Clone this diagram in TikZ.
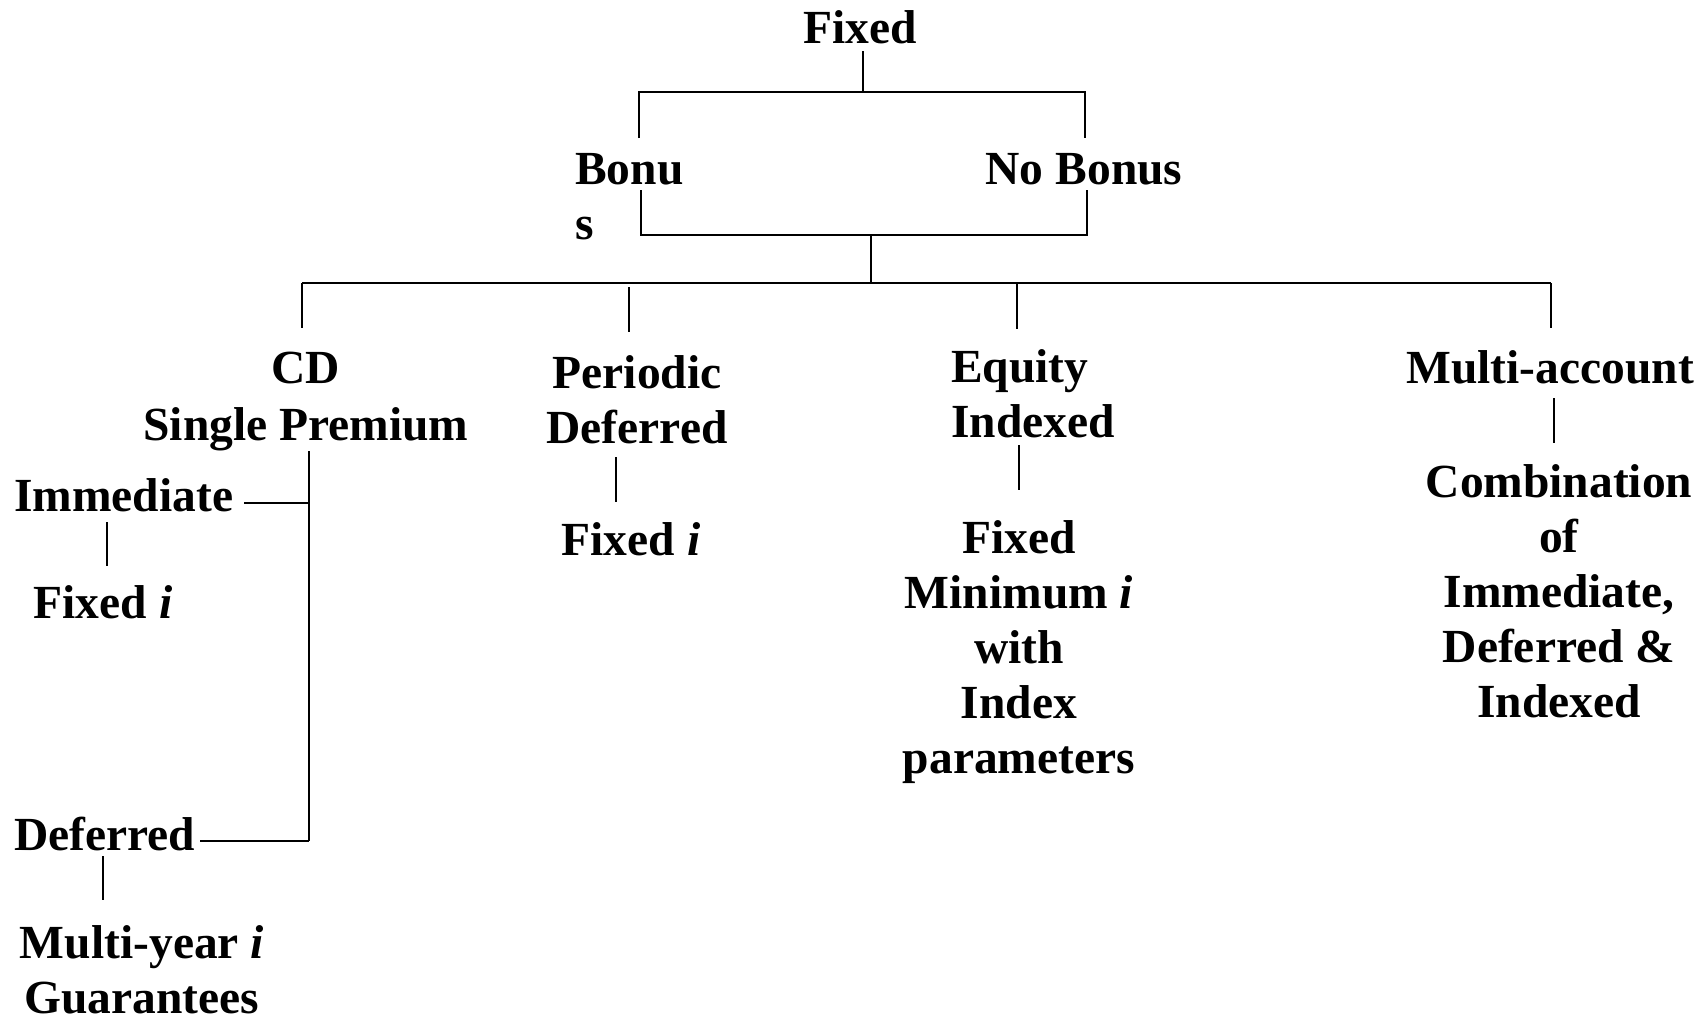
\documentclass[tikz,border=0pt]{standalone}
\usepackage{fontspec}
\setmainfont{Liberation Serif}
\begin{document}
\begin{tikzpicture}[x=1pt,y=-1pt,
  lbl/.style={inner sep=0pt, font=\fontsize{47.5}{55}\selectfont\bfseries, anchor=base},
  mlbl/.style={lbl, align=center},
  conn/.style={line width=2pt, line cap=butt}]
\useasboundingbox (0,0) rectangle (1706,1020);
% labels (multi-line nodes are placed at the baseline of their last line)
\node[lbl] (fixed) at (860,43) {Fixed};
\node[lbl, anchor=base west, align=left] (bonus) at (575,239) {Bonu\\s};
\node[lbl] (nobonus) at (1084,184) {No Bonus};
\node[mlbl] (cd) at (306,440) {CD\\[2pt]Single Premium};
\node[mlbl] (periodic) at (637,443) {Periodic\\Deferred};
\node[lbl, anchor=base west, align=left] (equity) at (951,437) {Equity\\Indexed};
\node[lbl] (multi) at (1550,383) {Multi-account};
\node[lbl, anchor=base west] (immediate) at (14,511) {Immediate};
\node[lbl] (fixedi1) at (103,618) {Fixed \textit{i}};
\node[lbl] (fixedi2) at (631,555) {Fixed \textit{i}};
\node[mlbl] (fixedmin) at (1019,773) {Fixed\\Minimum \textit{i}\\with\\Index\\parameters};
\node[mlbl] (combo) at (1559,717) {Combination\\of\\Immediate,\\Deferred \&\\Indexed};
\node[lbl, anchor=base west] (deferred) at (14,850) {Deferred};
\node[mlbl] (multiyear) at (142,1013) {Multi-year \textit{i}\\Guarantees};
% junction coordinates
\coordinate (j1a) at (863,51);
\coordinate (j1b) at (863,92);
\coordinate (j1l) at (639,92);
\coordinate (j1r) at (1085,92);
\coordinate (j1ld) at (639,138);
\coordinate (j1rd) at (1085,138);
\coordinate (j2lu) at (641,190);
\coordinate (j2l) at (641,235);
\coordinate (j2r) at (1087,235);
\coordinate (j2ru) at (1087,190);
\coordinate (j2m) at (871,235);
\coordinate (j2md) at (871,283);
\coordinate (hl) at (302,283);
\coordinate (hr) at (1551,283);
\coordinate (cdd) at (302,328);
\coordinate (pu) at (629,287);
\coordinate (pd) at (629,332);
\coordinate (eu) at (1017,283);
\coordinate (ed) at (1017,329);
\coordinate (md) at (1551,328);
\coordinate (cst) at (309,451);
\coordinate (cimm) at (309,503);
\coordinate (cdef) at (309,841);
\coordinate (imml) at (244,503);
\coordinate (defl) at (200,841);
\coordinate (is1) at (107,522);
\coordinate (is2) at (107,566);
\coordinate (ds1) at (103,856);
\coordinate (ds2) at (103,900);
\coordinate (ps1) at (616,457);
\coordinate (ps2) at (616,502);
\coordinate (es1) at (1019,445);
\coordinate (es2) at (1019,490);
\coordinate (ms1) at (1554,398);
\coordinate (ms2) at (1554,443);
% connectors
\draw[conn] (j1a) -- (j1b);
\draw[conn] (j1ld) -- (j1l) -- (j1r) -- (j1rd);
\draw[conn] (j2lu) -- (j2l) -- (j2r) -- (j2ru);
\draw[conn] (j2m) -- (j2md);
\draw[conn] (hl) -- (hr);
\draw[conn] (hl) -- (cdd);
\draw[conn] (pu) -- (pd);
\draw[conn] (eu) -- (ed);
\draw[conn] (hr) -- (md);
\draw[conn] (cst) -- (cdef);
\draw[conn] (imml) -- (cimm);
\draw[conn] (defl) -- (cdef);
\draw[line width=1.5pt] (is1) -- (is2);
\draw[line width=1.5pt] (ds1) -- (ds2);
\draw[line width=1.5pt] (ps1) -- (ps2);
\draw[line width=1.5pt] (es1) -- (es2);
\draw[line width=1.5pt] (ms1) -- (ms2);
\end{tikzpicture}
\end{document}
